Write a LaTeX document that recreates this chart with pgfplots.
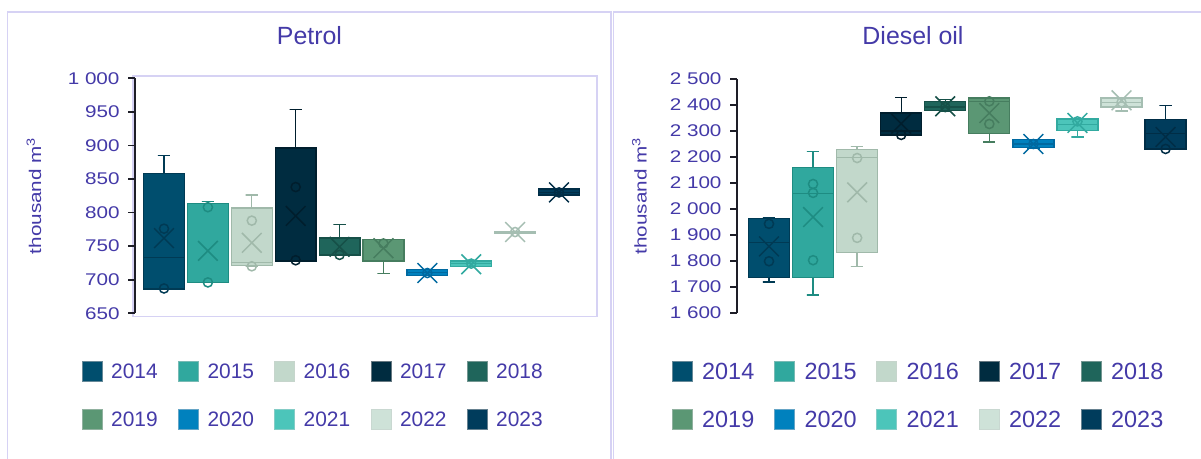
\documentclass[border=0pt]{standalone}
\usepackage{fontspec}
\setmainfont{Liberation Sans}
\newfontfamily\stretchfont[FakeStretch=1.22]{Liberation Sans}
\usepackage{pgfplots}
\pgfplotsset{compat=1.18}
\definecolor{txt}{RGB}{68,58,168}
\definecolor{lav}{RGB}{214,210,244}
\definecolor{axd}{RGB}{30,30,40}
\definecolor{c14}{RGB}{0,78,110}   \definecolor{d14}{RGB}{0,58,84}
\definecolor{c15}{RGB}{48,168,158} \definecolor{d15}{RGB}{30,140,130}
\definecolor{c16}{RGB}{194,216,203}\definecolor{d16}{RGB}{160,185,170}
\definecolor{c17}{RGB}{0,44,64}    \definecolor{d17}{RGB}{0,30,45}
\definecolor{c18}{RGB}{31,101,91}  \definecolor{d18}{RGB}{22,80,72}
\definecolor{c19}{RGB}{91,151,116} \definecolor{d19}{RGB}{70,125,95}
\definecolor{c20}{RGB}{0,129,190}  \definecolor{d20}{RGB}{0,105,160}
\definecolor{c21}{RGB}{76,197,186} \definecolor{d21}{RGB}{50,170,160}
\definecolor{c22}{RGB}{206,226,216}\definecolor{d22}{RGB}{165,190,178}
\definecolor{c23}{RGB}{0,60,92}    \definecolor{d23}{RGB}{0,45,70}
\newcommand{\tickf}{\stretchfont\fontsize{17}{20}\selectfont}
% #1 position, #2 colour, #3 lower whisker, #4 lower quartile, #5 median, #6 upper quartile, #7 upper whisker, #8 average
\newcommand{\bx}[8]{%
\addplot[fill=c#2, draw=d#2] table[row sep=\\, x expr=\thisrow{o}+#1, y=v] {o v\\ -0.465 #4\\ 0.465 #4\\ 0.465 #6\\ -0.465 #6\\} -- cycle;
\addplot[draw=d#2] table[row sep=\\, x expr=\thisrow{o}+#1, y=v] {o v\\ -0.465 #5\\ 0.465 #5\\};
\addplot[draw=d#2] table[row sep=\\, x expr=\thisrow{o}+#1, y=v] {o v\\ 0 #6\\ 0 #7\\ -0.14 #7\\ 0.14 #7\\};
\addplot[draw=d#2] table[row sep=\\, x expr=\thisrow{o}+#1, y=v] {o v\\ 0 #4\\ 0 #3\\ -0.14 #3\\ 0.14 #3\\};
\addplot[only marks, mark=x, mark size=14pt, draw=d#2, line width=1.5pt] coordinates {(#1,#8)};}
\newcommand{\pts}[2]{\addplot[only marks, mark=o, mark size=4.6pt, draw=d#1, line width=1.5pt] coordinates {#2};}
\pgfplotsset{common/.style={
  scale only axis, anchor=south west, clip=false,
  axis x line=none, axis y line*=left,
  y axis line style={-, draw=axd, line width=1.7pt},
  ytick style={draw=axd, line width=1.7pt},
  tick align=outside, major tick length=7pt,
  yticklabel style={font=\tickf, text=txt, xshift=-5bp},
  ylabel={thousand m\textsuperscript{3}},
  ylabel style={font=\tickf, text=txt, anchor=center},
  title style={font=\fontsize{25}{28}\selectfont, text=txt, anchor=center},
  every axis plot/.append style={line width=1.3pt, line join=miter},
}}
\begin{document}
\begin{tikzpicture}
\begin{scope}[x=1bp,y=1bp]
\useasboundingbox (0,0) rectangle (1201,459);
\fill[white] (0,0) rectangle (1201,459);
\draw[lav, line width=1.5bp] (7.3,-2) -- (7.3,447) -- (611,447) -- (611,-2);
\draw[lav, line width=1.5bp] (613.5,-2) -- (613.5,447) -- (1203,447);
\draw[lav, line width=1.2bp] (133,142.3) rectangle (597,383);
\end{scope}

\begin{axis}[common, at={(135bp,145.7bp)}, width=462bp, height=235bp,
  xmin=0.339, xmax=10.866, ymin=650, ymax=1000,
  ytick={650,700,750,800,850,900,950,1000},
  yticklabels={650,700,750,800,850,900,950,1 000},
  title={Petrol}, title style={at={(axis description cs:0.3777,1.1557)}},
  ylabel style={at={(axis description cs:-0.2186,0.5)}}]
\bx{1}{14}{686}{686}{733}{858}{885}{762}   \pts{14}{(1,776)(1,687)}
\bx{2}{15}{696}{696}{813}{813}{817}{743}   \pts{15}{(2,808)(2,696)}
\bx{3}{16}{720}{721}{726}{807}{826}{755}   \pts{16}{(3,788)(3,720)}
\bx{4}{17}{728}{728}{728}{896}{954}{795}   \pts{17}{(4,838)(4,729)}
\bx{5}{18}{737}{737}{737}{762}{782}{749}   \pts{18}{(5,737)}
\bx{6}{19}{709}{728}{760}{760}{760}{747}   \pts{19}{(6,754)}
\bx{7}{20}{706}{706}{711}{715}{715}{710}   \pts{20}{(7,710)}
\bx{8}{21}{720}{720}{724}{728}{728}{723}   \pts{21}{(8,724)}
\bx{9}{22}{769}{769}{771}{772}{772}{771}   \pts{22}{(9,771)}
\bx{10}{23}{826}{826}{830}{835}{835}{830}  \pts{23}{(10,830)}
\end{axis}

\begin{axis}[common, at={(737bp,146bp)}, width=459.4bp, height=234bp,
  xmin=0.274, xmax=10.7, ymin=1600, ymax=2500,
  ytick={1600,1700,1800,1900,2000,2100,2200,2300,2400,2500},
  yticklabels={1 600,1 700,1 800,1 900,2 000,2 100,2 200,2 300,2 400,2 500},
  title={Diesel oil}, title style={at={(axis description cs:0.3831,1.1594)}},
  ylabel style={at={(axis description cs:-0.2122,0.5)}}]
\bx{1}{14}{1719}{1736}{1872}{1963}{1968}{1856}   \pts{14}{(1,1943)(1,1799)}
\bx{2}{15}{1669}{1737}{2059}{2160}{2222}{1969}   \pts{15}{(2,2096)(2,2062)(2,1803)}
\bx{3}{16}{1778}{1833}{2199}{2228}{2241}{2064}   \pts{16}{(3,2196)(3,1889)}
\bx{4}{17}{2285}{2285}{2300}{2369}{2430}{2328}   \pts{17}{(4,2285)}
\bx{5}{18}{2375}{2378}{2392}{2414}{2420}{2395}   \pts{18}{(5,2392)}
\bx{6}{19}{2258}{2290}{2414}{2427}{2427}{2369}   \pts{19}{(6,2414)(6,2327)}
\bx{7}{20}{2235}{2236}{2250}{2266}{2268}{2250}   \pts{20}{(7,2250)}
\bx{8}{21}{2277}{2302}{2325}{2346}{2346}{2331}   \pts{21}{(8,2337)}
\bx{9}{22}{2377}{2392}{2410}{2427}{2427}{2418}   \pts{22}{(9,2410)}
\bx{10}{23}{2231}{2231}{2290}{2344}{2397}{2277}  \pts{23}{(10,2231)}
\end{axis}

\begin{scope}[x=1bp,y=1bp]
\foreach \c/\x in {14/82,15/178.3,16/274.5,17/370.8,18/467}{
  \filldraw[fill=c\c, draw=d\c!60!white, line width=0.6bp] (\x,78) rectangle ++(20,20);
  \node[anchor=west, inner sep=0, font=\fontsize{21}{24}\selectfont, text=txt] at (\x+29,88) {20\c};}
\foreach \c/\x in {19/82,20/178.3,21/274.5,22/370.8,23/467}{
  \filldraw[fill=c\c, draw=d\c!60!white, line width=0.6bp] (\x,30) rectangle ++(20,20);
  \node[anchor=west, inner sep=0, font=\fontsize{21}{24}\selectfont, text=txt] at (\x+29,40) {20\c};}
\foreach \c/\x in {14/672,15/774.3,16/876.5,17/978.8,18/1081}{
  \filldraw[fill=c\c, draw=d\c!60!white, line width=0.6bp] (\x,78) rectangle ++(20,20);
  \node[anchor=west, inner sep=0, font=\fontsize{23.5}{26}\selectfont, text=txt] at (\x+30,88) {20\c};}
\foreach \c/\x in {19/672,20/774.3,21/876.5,22/978.8,23/1081}{
  \filldraw[fill=c\c, draw=d\c!60!white, line width=0.6bp] (\x,30) rectangle ++(20,20);
  \node[anchor=west, inner sep=0, font=\fontsize{23.5}{26}\selectfont, text=txt] at (\x+30,40) {20\c};}
\end{scope}
\end{tikzpicture}
\end{document}
